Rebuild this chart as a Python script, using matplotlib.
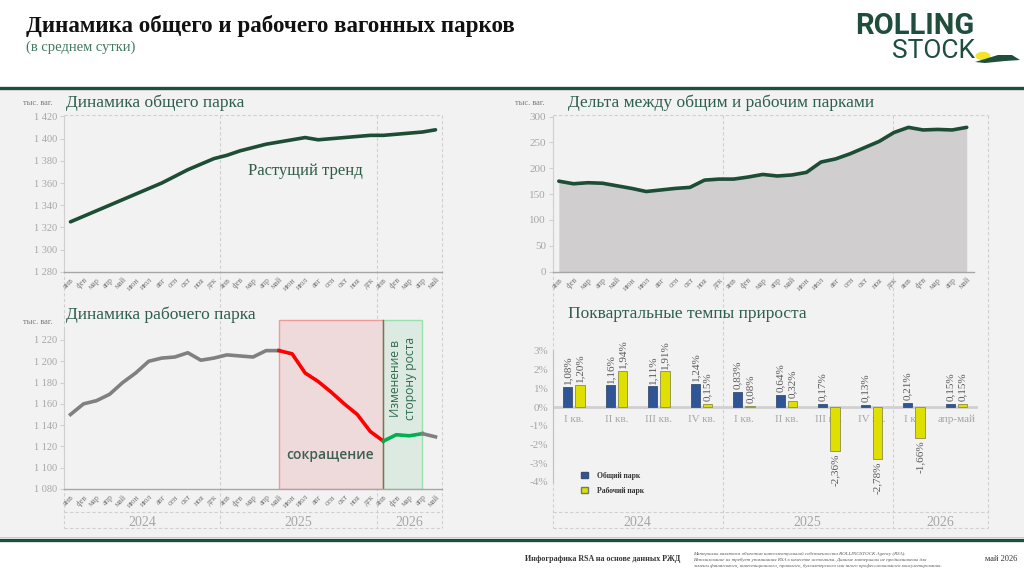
"""
Динамика общего и рабочего вагонных парков (в среднем сутки)
"""

import matplotlib
matplotlib.use("Agg")
import matplotlib.pyplot as plt
import matplotlib.transforms as mtransforms
from matplotlib.patches import Rectangle, Circle, Polygon, Patch
from matplotlib.lines import Line2D
from matplotlib.ticker import FuncFormatter

# Datos
meses = ["янв", "фев", "мар", "апр", "май", "июн", "июл", "авг", "сен", "окт", "ноя", "дек"]
etiquetas_meses = meses + meses + meses[:5]
anios = ["2024", "2025", "2026"]
meses_por_anio = [12, 12, 5]

parque_total = [1325, 1330, 1335, 1340, 1345, 1350, 1355, 1360, 1366, 1372, 1377, 1382,
                1385, 1389, 1392, 1395, 1397, 1399, 1401, 1399, 1400, 1401, 1402, 1403,
                1403, 1404, 1405, 1406, 1408]
parque_trabajo = [1150, 1160, 1163, 1169, 1180, 1189, 1200, 1203, 1204, 1208, 1201, 1203,
                  1206, 1205, 1204, 1210, 1210, 1207, 1189, 1181, 1171, 1160, 1150, 1134,
                  1125, 1131, 1130, 1132, 1129]
delta = [175, 170, 172, 171, 166, 161, 155, 158, 161, 163, 177, 179,
         179, 183, 188, 185, 187, 192, 212, 218, 228, 240, 252, 269,
         279, 274, 275, 274, 279]

trimestres = ["I кв.", "II кв.", "III кв.", "IV кв.", "I кв.", "II кв.", "III кв.", "IV кв.",
              "I кв.", "апр-май"]
trimestres_por_anio = [4, 4, 2]
crec_total = [1.08, 1.16, 1.11, 1.24, 0.83, 0.64, 0.17, 0.13, 0.21, 0.15]
crec_trabajo = [1.20, 1.94, 1.91, 0.15, 0.08, 0.32, -2.36, -2.78, -1.66, 0.15]

# Tramos del parque de trabajo: (inicio, fin)
tramo_caida = (16, 24)
tramo_subida = (24, 27)

# Estilo
W, H = 1024, 572
SERIF = ["Liberation Serif", "DejaVu Serif"]
VERDE = "#1E4D36"
VERDE_TIT = "#2E5E4E"
GRIS_TXT = "#A6A6A6"
GRIS_MES = "#7A7A7A"
FONDO = "#F2F2F2"

plt.rcParams["font.family"] = SERIF


def caja(x0, y0, x1, y1):
    return [x0 / W, 1 - y1 / H, (x1 - x0) / W, (y1 - y0) / H]


def fy(y):
    return 1 - y / H


fig = plt.figure(figsize=(W / 100, H / 100), dpi=100)
fig.patch.set_facecolor("white")

# Banda gris y lineas verdes
fig.patches.append(Rectangle((0, fy(538)), 1, fy(89) - fy(538), transform=fig.transFigure,
                             facecolor=FONDO, edgecolor="none", zorder=-10))
fig.add_artist(Line2D([0, 1], [fy(88), fy(88)], color="#1F4E3D", lw=2.4))
fig.add_artist(Line2D([0, 1], [fy(540), fy(540)], color="#1F4E3D", lw=2.4))
fig.add_artist(Line2D([0, 1], [fy(536.5), fy(536.5)], color="#C8C8C8", lw=0.6))

# Encabezado
fig.text(26 / W, fy(26), "Динамика общего и рабочего вагонных парков", fontsize=16.6,
         fontweight="bold", color="#111111", va="center", ha="left")
fig.text(26 / W, fy(47), "(в среднем сутки)", fontsize=10.5, color="#3E7A5E",
         va="center", ha="left")

# Logo
fig.text(855 / W, fy(26), "ROLLING", family="Roboto", fontweight="bold", fontsize=21,
         color="#1F4E3D", va="center", ha="left")
fig.text(892 / W, fy(50.5), "STOCK", family="Roboto", fontweight="normal", fontsize=19,
         color="#1F4E3D", va="center", ha="left")
fig.patches.append(Circle((983 / W, fy(56)), 7.5 / W, transform=fig.transFigure,
                          facecolor="#F2E32B", edgecolor="none", zorder=2))
fig.patches.append(Polygon([(975 / W, fy(62)), (998 / W, fy(55)), (1012 / W, fy(55)),
                            (1020 / W, fy(60)), (1005 / W, fy(61)), (985 / W, fy(63))],
                           closed=True, transform=fig.transFigure,
                           facecolor="#1F4E3D", edgecolor="none", zorder=3))

# Pie
fig.text(525 / W, fy(559), "Инфографика RSA на основе данных РЖД", fontsize=5.8,
         fontweight="bold", color="#333333", va="center")
fig.text(693 / W, fy(552),
         "Материалы являются объектом интеллектуальной собственности ROLLINGSTOCK Agency (RSA).\n"
         "Использование их требует упоминания RSA в качестве источника. Данные материалы не предназначены для\n"
         "замены финансового, инвестиционного, правового, бухгалтерского или иного профессионального консультирования.",
         fontsize=3.6, style="italic", color="#555555", va="top", linespacing=1.6)
fig.text(985 / W, fy(559), "май 2026", fontsize=6, color="#333333", va="center")

fmt_miles = FuncFormatter(lambda v, _: f"{int(v):,}".replace(",", " "))
x_meses = list(range(len(etiquetas_meses)))


def estilo_meses(ax):
    ax.set_facecolor("none")
    for lado in ["top", "right"]:
        ax.spines[lado].set_visible(False)
    ax.spines["left"].set_color("#D0D0D0")
    ax.spines["bottom"].set_color("#A6A6A6")
    ax.spines["bottom"].set_linewidth(1.0)
    ax.set_xlim(-0.5, len(etiquetas_meses) - 0.5)
    ax.set_xticks(x_meses)
    ax.set_xticklabels(etiquetas_meses, rotation=45, ha="right", rotation_mode="anchor",
                       fontsize=5.8, color=GRIS_MES)
    ax.tick_params(axis="x", length=0, pad=3)
    ax.tick_params(axis="y", length=3, color="#D0D0D0", labelsize=7.5, labelcolor=GRIS_TXT, pad=2)


# 1. Динамика общего парка
ax1 = fig.add_axes(caja(64, 116.5, 442, 271.7))
estilo_meses(ax1)
ax1.plot(x_meses, parque_total, color=VERDE, lw=2.6, solid_capstyle="round")
ax1.set_ylim(1280, 1420)
ax1.set_yticks(range(1280, 1421, 20))
ax1.yaxis.set_major_formatter(fmt_miles)
ax1.text(18, 1371, "Растущий тренд", fontsize=12, color="#2F5D45", ha="center", va="center")
fig.text(23 / W, fy(103), "тыс. ваг.", fontsize=6, color=GRIS_MES, va="center")
fig.text(66 / W, fy(103), "Динамика общего парка", fontsize=12.5, color=VERDE_TIT, va="center")

# 2. Дельта между общим и рабочим парками
ax2 = fig.add_axes(caja(553, 116.5, 974, 271.7))
estilo_meses(ax2)
ax2.set_xlim(-0.4, len(etiquetas_meses) - 0.5)
ax2.fill_between(x_meses, delta, color="#D0CECE", lw=0)
ax2.plot(x_meses, delta, color=VERDE, lw=2.6, solid_capstyle="round")
ax2.set_ylim(0, 300)
ax2.set_yticks(range(0, 301, 50))
ax2.tick_params(axis="y", labelsize=8)
fig.text(515 / W, fy(103), "тыс. ваг.", fontsize=6, color=GRIS_MES, va="center")
fig.text(568 / W, fy(103), "Дельта между общим и рабочим парками", fontsize=12.5,
         color=VERDE_TIT, va="center")

# 3. Динамика рабочего парка
ax3 = fig.add_axes(caja(64, 318.7, 442, 489))
estilo_meses(ax3)
ax3.set_ylim(1080, 1240)
ax3.set_yticks(range(1080, 1221, 20))
ax3.spines["left"].set_bounds(1080, 1230)
ax3.yaxis.set_major_formatter(fmt_miles)
y_tope = 1239
ax3.add_patch(Rectangle((tramo_caida[0], 1080), tramo_caida[1] - tramo_caida[0], y_tope - 1080,
                        facecolor="#EFDADB", edgecolor="#F09A9A", lw=1.0, zorder=1))
ax3.add_patch(Rectangle((tramo_subida[0], 1080), tramo_subida[1] - tramo_subida[0], y_tope - 1080,
                        facecolor="#DDEAE1", edgecolor="#9ADFAE", lw=1.0, zorder=1))
ax3.plot([tramo_subida[0], tramo_subida[0]], [1080, y_tope], color="#8A6A55", lw=1.0, zorder=1)
a, b = tramo_caida
c, d = tramo_subida
ax3.plot(x_meses[:a + 1], parque_trabajo[:a + 1], color="#808080", lw=2.6, zorder=3)
ax3.plot(x_meses[a:b + 1], parque_trabajo[a:b + 1], color="#FF0000", lw=2.6, zorder=3)
ax3.plot(x_meses[c:d + 1], parque_trabajo[c:d + 1], color="#00B050", lw=2.6, zorder=3)
ax3.plot(x_meses[d:], parque_trabajo[d:], color="#808080", lw=2.6, zorder=3)
ax3.text(19.9, 1112, "сокращение", family="Open Sans", fontweight="semibold", fontsize=10,
         color="#3D5F52", ha="center", va="center", zorder=4)
ax3.text(25.5, 1184, "Изменение в\nсторону роста", family="Open Sans", fontsize=8.7,
         color="#2E6B4E", rotation=90, ha="center", va="center", linespacing=1.15, zorder=4)
fig.text(23 / W, fy(322), "тыс. ваг.", fontsize=6, color=GRIS_MES, va="center")
fig.text(66 / W, fy(314.5), "Динамика рабочего парка", fontsize=12.5, color=VERDE_TIT, va="center")

# 4. Поквартальные темпы прироста
ax4 = fig.add_axes(caja(552.7, 351, 977.7, 481.7))
ax4.set_facecolor("none")
for lado in ["top", "right", "bottom"]:
    ax4.spines[lado].set_visible(False)
ax4.spines["left"].set_color("#BFBFBF")
ax4.set_xlim(-0.5, len(trimestres) - 0.5)
ax4.set_ylim(-4, 3)
ax4.set_yticks(range(-4, 4))
ax4.yaxis.set_major_formatter(FuncFormatter(lambda v, _: f"{int(v)}%"))
ax4.tick_params(axis="y", length=0, labelsize=8, labelcolor=GRIS_TXT, pad=3)
ax4.set_xticks([])
ax4.axhline(0, color="#D0D0D0", lw=2.0, zorder=1)

x_tri = list(range(len(trimestres)))
ancho = 0.22
desv = 0.145
ax4.bar([x - desv for x in x_tri], crec_total, width=ancho, color="#2F5597",
        edgecolor="#3A4F6E", lw=0.6, zorder=3, label="Общий парк")
ax4.bar([x + desv for x in x_tri], crec_trabajo, width=ancho, color="#E0E000",
        edgecolor="#8C8C4A", lw=0.6, zorder=3, label="Рабочий парк")
for serie, off in [(crec_total, -desv), (crec_trabajo, desv)]:
    for x, v in zip(x_tri, serie):
        txt = f"{v:.2f}%".replace(".", ",")
        ax4.annotate(txt, (x + off, v), xytext=(0, 2 if v >= 0 else -2),
                     textcoords="offset points", rotation=90, ha="center",
                     va="bottom" if v >= 0 else "top", fontsize=8, color="#595959", zorder=4)
for x, t in zip(x_tri, trimestres):
    ax4.text(x, -0.66, t, fontsize=8, color=GRIS_TXT, ha="center", va="center", zorder=2)
ax4.legend(handles=[Patch(facecolor="#2F5597", edgecolor="#3A4F6E"),
                    Patch(facecolor="#E0E000", edgecolor="#6E7A7A")],
           labels=["Общий парк", "Рабочий парк"], loc="upper left",
           bbox_to_anchor=(574 / W, fy(465)), bbox_transform=fig.transFigure, frameon=False,
           prop={"family": SERIF, "size": 5.5, "weight": "bold"}, labelcolor="#333333",
           handlelength=0.9, handleheight=0.9, handletextpad=1.2, labelspacing=0.9)
fig.text(568 / W, fy(314.5), "Поквартальные темпы прироста", fontsize=12.5, color=VERDE_TIT,
         va="center")

# Marcos punteados y fila de años
y_arriba, y_fila, y_abajo = fy(115), fy(512), fy(527.5)
estilo_punt = dict(color="#D0D0D0", lw=0.8, ls=(0, (3, 2)), zorder=-5)


def marco_anios(ax, conteos, x_izq, x_der):
    t = mtransforms.blended_transform_factory(ax.transData, fig.transFigure)
    for x in [x_izq, x_der]:
        fig.add_artist(Line2D([x, x], [y_arriba, y_abajo], transform=t, **estilo_punt))
    inicio = x_izq
    acum = 0
    for i, (anio, n) in enumerate(zip(anios, conteos)):
        acum += n
        fin = acum - 0.5 if i < len(conteos) - 1 else x_der
        if i < len(conteos) - 1:
            fig.add_artist(Line2D([fin, fin], [y_arriba, y_abajo], transform=t, **estilo_punt))
        fig.text((inicio + fin) / 2, fy(522.5), anio, transform=t, fontsize=10,
                 color=GRIS_TXT, ha="center", va="center")
        inicio = fin
    for y in [y_arriba, y_fila, y_abajo]:
        fig.add_artist(Line2D([x_izq, x_der], [y, y], transform=t, **estilo_punt))


marco_anios(ax3, meses_por_anio, -0.5, len(etiquetas_meses) - 0.5)
marco_anios(ax4, trimestres_por_anio, -0.5, len(trimestres) - 0.25)

fig.savefig("out.png", dpi=100)
